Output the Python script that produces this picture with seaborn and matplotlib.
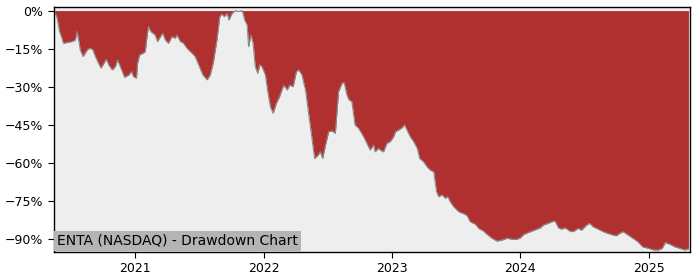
import matplotlib
matplotlib.use("Agg")
import matplotlib.pyplot as plt
import matplotlib.dates as mdates
from matplotlib.ticker import MultipleLocator, PercentFormatter
import seaborn as sns
import pandas as pd

# ---- data ----
dates = [
    "2020-05-15", "2020-05-23", "2020-05-30", "2020-06-06", "2020-06-10", "2020-06-20",
    "2020-07-05", "2020-07-14", "2020-07-19", "2020-07-25", "2020-07-28", "2020-08-05",
    "2020-08-11", "2020-08-18", "2020-08-26", "2020-09-02", "2020-09-09", "2020-09-18",
    "2020-09-25", "2020-10-03", "2020-10-10", "2020-10-17", "2020-10-27", "2020-11-05",
    "2020-11-11", "2020-11-19", "2020-12-01", "2020-12-13", "2020-12-21", "2020-12-26",
    "2021-01-04", "2021-01-07", "2021-01-13", "2021-01-23", "2021-01-29", "2021-02-03",
    "2021-02-07", "2021-02-14", "2021-02-26", "2021-03-05", "2021-03-13", "2021-03-20",
    "2021-03-27", "2021-04-05", "2021-04-15", "2021-04-24", "2021-04-29", "2021-05-09",
    "2021-05-18", "2021-05-28", "2021-06-11", "2021-06-20", "2021-06-30", "2021-07-12",
    "2021-07-24", "2021-08-02", "2021-08-11", "2021-08-21", "2021-08-29", "2021-09-04",
    "2021-09-11", "2021-09-19", "2021-09-24", "2021-10-03", "2021-10-12", "2021-10-22",
    "2021-11-01", "2021-11-08", "2021-11-15", "2021-11-19", "2021-11-26", "2021-12-02",
    "2021-12-08", "2021-12-15", "2021-12-21", "2021-12-27", "2022-01-06", "2022-01-12",
    "2022-01-20", "2022-01-28", "2022-02-06", "2022-02-15", "2022-02-27", "2022-03-09",
    "2022-03-16", "2022-03-26", "2022-04-04", "2022-04-11", "2022-04-20", "2022-04-30",
    "2022-05-09", "2022-05-19", "2022-05-26", "2022-06-05", "2022-06-11", "2022-06-18",
    "2022-06-26", "2022-07-05", "2022-07-15", "2022-07-24", "2022-08-02", "2022-08-12",
    "2022-08-18", "2022-08-26", "2022-09-01", "2022-09-09", "2022-09-18", "2022-09-28",
    "2022-10-07", "2022-10-15", "2022-10-31", "2022-11-10", "2022-11-14", "2022-11-24",
    "2022-11-29", "2022-12-08", "2022-12-18", "2022-12-27", "2023-01-06", "2023-01-11",
    "2023-01-20", "2023-01-30", "2023-02-06", "2023-02-13", "2023-02-22", "2023-03-04",
    "2023-03-14", "2023-03-21", "2023-04-01", "2023-04-11", "2023-04-20", "2023-04-30",
    "2023-05-08", "2023-05-14", "2023-05-24", "2023-06-02", "2023-06-09", "2023-06-16",
    "2023-06-26", "2023-07-10", "2023-07-29", "2023-08-03", "2023-08-12", "2023-08-27",
    "2023-09-05", "2023-09-19", "2023-09-29", "2023-10-13", "2023-10-27", "2023-11-10",
    "2023-11-25", "2023-12-09", "2023-12-23", "2024-01-02", "2024-01-11", "2024-01-30",
    "2024-02-27", "2024-03-07", "2024-03-21", "2024-03-31", "2024-04-09", "2024-04-19",
    "2024-04-28", "2024-05-08", "2024-05-22", "2024-05-31", "2024-06-14", "2024-06-24",
    "2024-07-08", "2024-07-17", "2024-07-27", "2024-08-10", "2024-08-24", "2024-09-07",
    "2024-09-21", "2024-10-01", "2024-10-10", "2024-10-20", "2024-11-03", "2024-11-17",
    "2024-12-01", "2024-12-15", "2025-01-01", "2025-01-15", "2025-01-29", "2025-02-08",
    "2025-02-17", "2025-03-03", "2025-03-17", "2025-03-31", "2025-04-14", "2025-04-24",
]
drawdown = [
    0.0, -2.9, -8.3, -10.9, -12.9, -12.6,
    -12.2, -11.6, -8.3, -12.9, -15.5, -18.1,
    -16.8, -15.3, -14.9, -15.5, -18.1, -20.8,
    -22.7, -20.8, -19.2, -21.4, -23.4, -22.1,
    -19.5, -22.1, -26.3, -25.4, -24.1, -26.0,
    -26.7, -20.8, -17.5, -16.8, -16.2, -10.3,
    -6.3, -8.3, -9.6, -12.2, -10.3, -9.0,
    -11.6, -12.9, -10.3, -10.9, -9.6, -12.2,
    -12.9, -14.9, -16.8, -18.1, -21.4, -25.4,
    -27.3, -25.4, -20.2, -11.6, -2.4, -1.4,
    -2.4, -1.1, -3.7, -1.1, 0.0, -0.4,
    0.0, -3.7, -5.7, -14.2, -9.6, -12.9,
    -22.1, -24.7, -21.4, -22.1, -25.4, -31.3,
    -37.9, -40.5, -36.6, -34.0, -29.4, -31.3,
    -29.4, -30.0, -24.1, -23.4, -25.4, -31.3,
    -40.5, -51.0, -58.3, -57.0, -55.7, -58.3,
    -53.0, -47.8, -47.5, -48.4, -32.0, -28.7,
    -28.3, -33.3, -35.2, -35.9, -45.1, -46.4,
    -48.4, -50.4, -55.0, -53.0, -55.7, -54.3,
    -55.0, -55.7, -52.3, -51.7, -49.7, -47.8,
    -47.1, -46.2, -45.1, -47.1, -49.7, -51.7,
    -54.3, -58.3, -59.6, -61.6, -62.9, -63.6,
    -71.4, -73.4, -72.7, -74.0, -73.4, -75.4,
    -77.4, -79.3, -80.4, -80.9, -83.3, -84.3,
    -85.9, -87.0, -88.3, -89.8, -90.9, -90.5,
    -89.8, -90.2, -90.2, -89.6, -88.3, -87.2,
    -85.7, -84.6, -83.9, -83.3, -83.0, -85.7,
    -86.2, -85.7, -87.0, -87.2, -85.9, -86.6,
    -84.6, -83.9, -85.3, -86.2, -87.2, -87.9,
    -88.5, -88.8, -87.9, -87.2, -88.5, -89.8,
    -91.2, -93.2, -93.8, -94.4, -94.4, -93.8,
    -91.5, -92.2, -93.2, -93.8, -94.4, -94.0,
]
title = "ENTA (NASDAQ) - Drawdown Chart"
x_start, x_end = "2020-05-14", "2025-04-29"

df = pd.DataFrame({"date": pd.to_datetime(dates), "drawdown": drawdown})

sns.set_theme(style="ticks")
plt.rcParams["font.family"] = ["DejaVu Sans"]

fig = plt.figure(figsize=(7.0, 2.8), dpi=100)
ax = fig.add_axes([0.077, 0.101, 0.909, 0.873])
ax.set_facecolor("#eeeeee")

ax.fill_between(df["date"], df["drawdown"], 0, color="#b03030", linewidth=0)
sns.lineplot(data=df, x="date", y="drawdown", ax=ax, color="#8c8c8c", linewidth=0.8)

ax.set_xlim(pd.Timestamp(x_start), pd.Timestamp(x_end))
ax.set_ylim(-95.1, 1.3)
ax.yaxis.set_major_locator(MultipleLocator(15))
ax.yaxis.set_major_formatter(PercentFormatter(xmax=100, decimals=0))
ax.xaxis.set_major_locator(mdates.YearLocator())
ax.xaxis.set_major_formatter(mdates.DateFormatter("%Y"))
ax.set_xlabel("")
ax.set_ylabel("")
ax.tick_params(labelsize=9, colors="black", length=4, width=0.8)
for s in ax.spines.values():
    s.set_color("black")
    s.set_linewidth(1.0)

ax.text(0.0047, 0.016, title, transform=ax.transAxes, ha="left", va="bottom",
        fontsize=10, color="black",
        bbox=dict(facecolor="#b4b4b4", edgecolor="none", pad=2))

fig.savefig("out.png", dpi=100)
